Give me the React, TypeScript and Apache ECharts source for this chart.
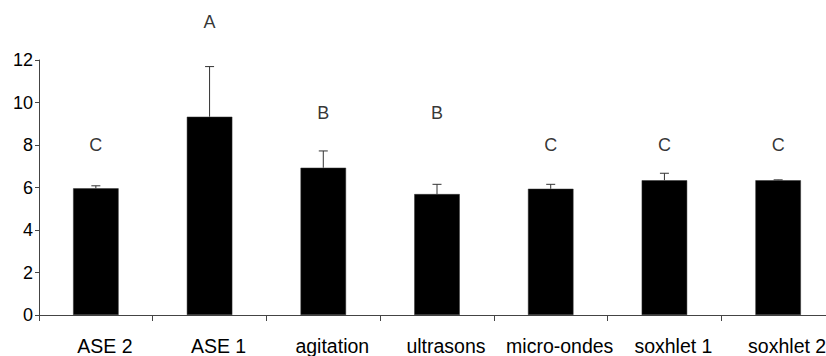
import React, { useEffect, useRef } from "react";
import * as echarts from "echarts";

const categories = ["ASE 2", "ASE 1", "agitation", "ultrasons", "micro-ondes", "soxhlet 1", "soxhlet 2"];
const means = [5.96, 9.33, 6.93, 5.69, 5.94, 6.34, 6.34];
const upperErrors = [6.08, 11.69, 7.72, 6.15, 6.15, 6.67, 6.36];
const groupLetters = ["C", "A", "B", "B", "C", "C", "C"];
const letterLevels = [8.0, 13.8, 9.5, 9.5, 8.0, 8.0, 8.0];
const yTicks = { min: 0, max: 12, interval: 2 };

const FONT = "'Liberation Sans', Arial, sans-serif";

export default function App() {
  const ref = useRef<HTMLDivElement>(null);
  useEffect(() => {
    if (!ref.current) return;
    const chart = echarts.init(ref.current, undefined, { renderer: "svg" });
    chart.setOption({
      animation: false,
      backgroundColor: "#ffffff",
      grid: { left: 39, right: 0, top: 60, bottom: 41, containLabel: false },
      xAxis: {
        type: "category",
        data: categories,
        boundaryGap: true,
        axisLine: { show: true, lineStyle: { color: "#444", width: 1 } },
        axisTick: { show: true, length: 6, lineStyle: { color: "#444" } },
        axisLabel: {
          color: "#000",
          fontFamily: FONT,
          fontSize: 19.5,
          margin: 21,
          interval: 0,
          padding: [0, 0, 0, 18],
        },
        splitLine: { show: false },
      },
      yAxis: {
        type: "value",
        min: yTicks.min,
        max: yTicks.max,
        interval: yTicks.interval,
        axisLine: { show: true, lineStyle: { color: "#444", width: 1 } },
        axisTick: { show: true, length: 4, lineStyle: { color: "#444" } },
        axisLabel: { color: "#000", fontFamily: FONT, fontSize: 18, margin: 6 },
        splitLine: { show: false },
      },
      series: [
        {
          type: "bar",
          data: means,
          barWidth: "40%",
          itemStyle: { color: "#000", borderColor: "#333", borderWidth: 0.5 },
          z: 2,
        },
        {
          type: "custom",
          data: means.map((m, i) => [i, m, upperErrors[i]]),
          z: 3,
          clip: false,
          renderItem: (params: any, api: any) => {
            const i = api.value(0);
            const base = api.coord([i, api.value(1)]);
            const top = api.coord([i, api.value(2)]);
            const half = 4.5;
            return {
              type: "group",
              children: [
                {
                  type: "line",
                  shape: { x1: base[0], y1: base[1], x2: top[0], y2: top[1] },
                  style: { stroke: "#333", lineWidth: 1 },
                },
                {
                  type: "line",
                  shape: { x1: top[0] - half, y1: top[1], x2: top[0] + half, y2: top[1] },
                  style: { stroke: "#333", lineWidth: 1 },
                },
              ],
            };
          },
        },
        {
          type: "scatter",
          data: letterLevels.map((v, i) => [i, v]),
          symbolSize: 0,
          clip: false,
          z: 4,
          label: {
            show: true,
            position: "inside",
            color: "#000",
            fontFamily: FONT,
            fontSize: 18,
            formatter: (p: any) => groupLetters[p.dataIndex],
          },
        },
      ],
    });
    return () => chart.dispose();
  }, []);
  return (
    <div
      style={{
        position: "fixed",
        left: 0,
        top: 0,
        width: 826,
        height: 356,
        overflow: "hidden",
        background: "#fff",
      }}
    >
      <div ref={ref} style={{ width: 835, height: 356 }} />
    </div>
  );
}
